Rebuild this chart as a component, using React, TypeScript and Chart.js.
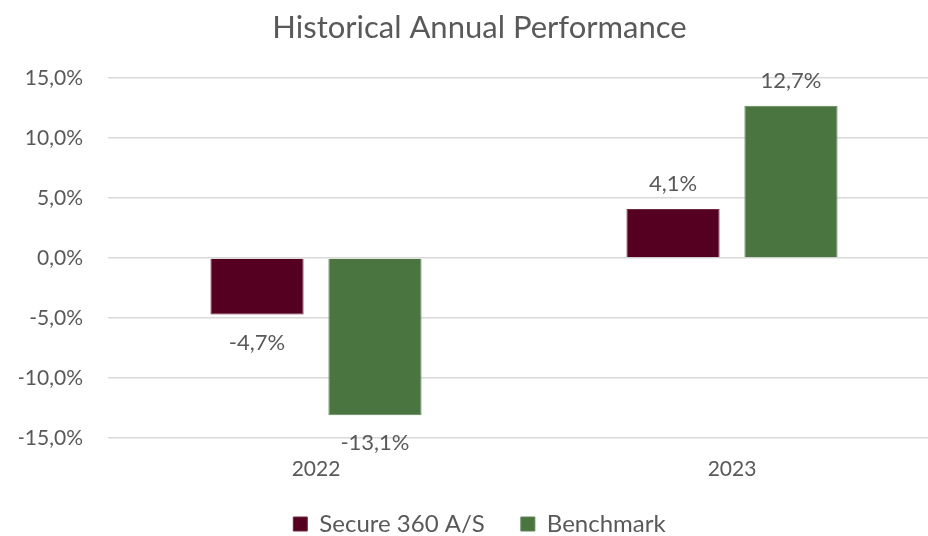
import React, { useEffect, useRef } from "react";
import { Chart, registerables } from "chart.js";

Chart.register(...registerables);

const categories = ["2022", "2023"];
const secureValues = [-4.7, 4.1];
const benchmarkValues = [-13.1, 12.7];
const seriesNames = ["Secure 360 A/S", "Benchmark"];
const titleText = "Historical Annual Performance";

const FONT = "Lato, 'Open Sans', sans-serif";
const TEXT = "#595959";

const fmt = (v: number) => v.toFixed(1).replace(".", ",") + "%";

const dataLabels = {
  id: "dataLabels",
  afterDatasetsDraw(chart: any) {
    const ctx = chart.ctx;
    ctx.save();
    ctx.font = `22px ${FONT}`;
    ctx.fillStyle = TEXT;
    ctx.textAlign = "center";
    ctx.textBaseline = "middle";
    chart.data.datasets.forEach((ds: any, di: number) => {
      const meta = chart.getDatasetMeta(di);
      meta.data.forEach((bar: any, i: number) => {
        const v = ds.data[i] as number;
        const y = v >= 0 ? bar.y - 25 : bar.y + 28;
        ctx.fillText(fmt(v), bar.x, y);
      });
    });
    ctx.restore();
  },
};

export default function App() {
  const ref = useRef<HTMLCanvasElement | null>(null);
  useEffect(() => {
    document.documentElement.style.overflow = "hidden";
    document.body.style.overflow = "hidden";
    const chart = new Chart(ref.current as HTMLCanvasElement, {
      type: "bar",
      data: {
        labels: categories,
        datasets: [
          {
            label: seriesNames[0],
            data: secureValues,
            backgroundColor: "#560021",
            borderColor: "#6e2a40",
            borderWidth: 1,
            categoryPercentage: 0.567,
            barPercentage: 0.79,
          },
          {
            label: seriesNames[1],
            data: benchmarkValues,
            backgroundColor: "#4a7540",
            borderColor: "#5f8656",
            borderWidth: 1,
            categoryPercentage: 0.567,
            barPercentage: 0.79,
          },
        ],
      },
      options: {
        animation: false,
        responsive: false,
        maintainAspectRatio: false,
        layout: { padding: { left: 19, right: 26, top: 0, bottom: -10 } },
        plugins: {
          title: {
            display: true,
            text: titleText,
            color: TEXT,
            font: { family: FONT, size: 31, weight: "normal" },
            padding: { top: 9, bottom: 32 },
          },
          legend: {
            position: "bottom",
            labels: {
              color: TEXT,
              font: { family: FONT, size: 24 },
              boxWidth: 14,
              boxHeight: 14,
              padding: 36,
            },
          },
          tooltip: { enabled: false },
        },
        scales: {
          x: {
            afterFit: (s: any) => {
              s.height = 38;
            },
            grid: { display: false },
            border: { display: false },
            ticks: {
              color: TEXT,
              font: { family: FONT, size: 21 },
              padding: 11,
            },
          },
          y: {
            min: -15,
            max: 15,
            afterFit: (s: any) => {
              s.width = 89;
            },
            grid: { color: "#d9d9d9", lineWidth: 1.5, drawTicks: false },
            border: { display: false },
            ticks: {
              stepSize: 5,
              color: TEXT,
              font: { family: FONT, size: 21 },
              padding: 25,
              callback: (v: any) => fmt(Number(v)),
            },
          },
        },
      },
      plugins: [dataLabels],
    });
    return () => chart.destroy();
  }, []);
  return (
    <div style={{ position: "absolute", left: 0, top: 0, width: 966, height: 536, background: "#fff" }}>
      <canvas ref={ref} width={966} height={536} />
    </div>
  );
}
